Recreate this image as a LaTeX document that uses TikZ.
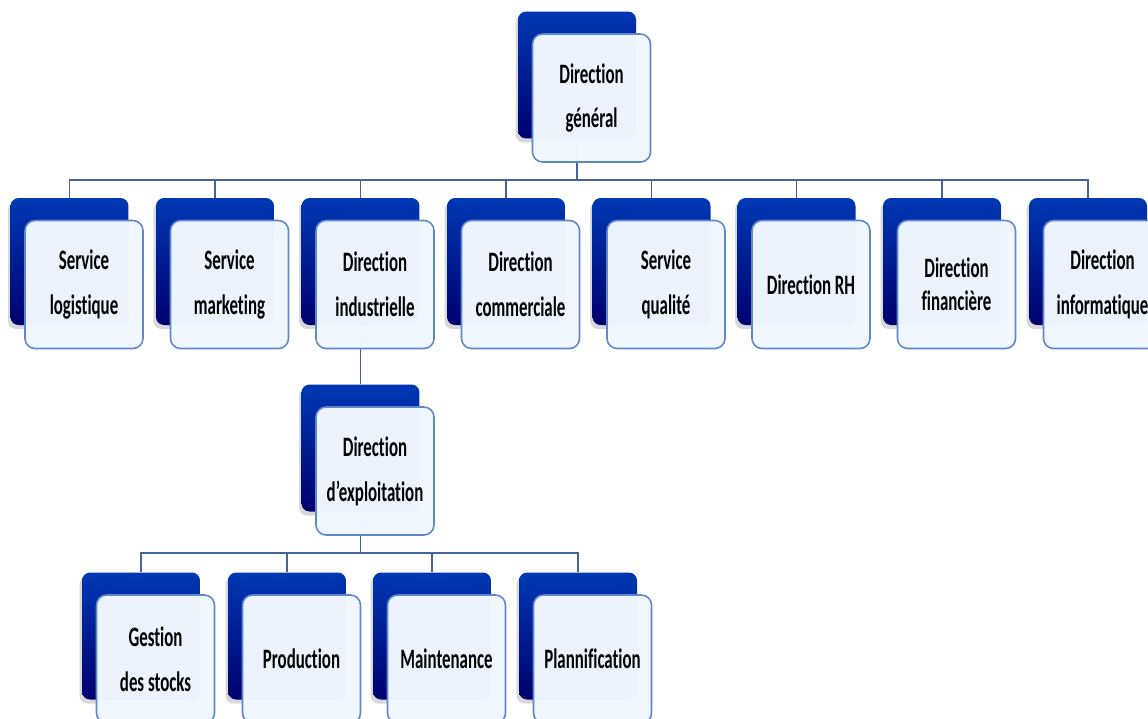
\documentclass[tikz,border=0pt]{standalone}
\usepackage{fontspec}
\setmainfont{Carlito}[FakeStretch=0.6, Ligatures=NoCommon]
\usetikzlibrary{positioning,shadows,backgrounds}
\definecolor{boxtop}{RGB}{0,56,180}
\definecolor{boxbot}{RGB}{0,0,110}
\definecolor{pane}{RGB}{240,247,255}
\definecolor{paneline}{RGB}{95,135,205}
\definecolor{linkcol}{RGB}{70,100,155}

\begin{document}
\begin{tikzpicture}[x=0.02cm,y=-0.02cm,
    back/.style={rounded corners=0.16cm, minimum width=2.36cm, minimum height=2.54cm, inner sep=0pt,
      top color=boxtop, bottom color=boxbot,
      drop shadow={shadow xshift=-0.05cm, shadow yshift=-0.08cm, opacity=0.3}},
    front/.style={draw=paneline, line width=0.9pt, fill=pane, fill opacity=0.985, text opacity=1,
      rounded corners=0.2cm, minimum width=2.36cm, minimum height=2.56cm, inner sep=0pt,
      align=center, font=\bfseries\fontsize{16}{25.5}\selectfont, shift={(14.5,23)}},
    link/.style={draw=linkcol, line width=0.8pt}]
        \clip (0,0) rectangle (1148,718);

        % Top
        \node[back] (dg-b) at (577,75) {};
        \node[front] (dg) at (dg-b) {Direction\\général};

        % Second level
        \foreach \n/\x/\t in {sl/69.5/Service\\logistique, sm/215/Service\\marketing,
            di/360.5/Direction\\industrielle, dc/506/Direction\\commerciale,
            sq/651.5/Service\\qualité, rh/796.5/Direction RH,
            df/942/Direction\\[-0.24cm]financière, dn/1088/Direction\\informatique} {
          \node[back] (\n-b) at (\x,261.5) {};
          \node[front] (\n) at (\n-b) {\t};
        }

        % Third level
        \node[back] (de-b) at (360.5,448) {};
        \node[front] (de) at (de-b) {Direction\\d’exploitation};

        % Fourth level
        \foreach \n/\x/\t in {gs/141/Gestion\\des stocks, pr/287/Production,
            mt/432/Maintenance, pl/578/Plannification} {
          \node[back] (\n-b) at (\x,636) {};
          \node[front] (\n) at (\n-b) {\t};
        }

        % Connectors
        \coordinate (bus-top) at (577,180);
        \coordinate (bus-low) at (360.5,553);
        \begin{scope}[on background layer]
          \fill[white] (0,0) rectangle (1148,718);
          \foreach \n in {sl,sm,di,dc,sq,rh,df,dn}
            \draw[link] (dg-b.south) |- (\n-b.north |- bus-top) -- (\n-b.north);
          \draw[link] (di-b.south) -- (de-b.north);
          \foreach \n in {gs,pr,mt,pl}
            \draw[link] (de-b.south) |- (\n-b.north |- bus-low) -- (\n-b.north);
        \end{scope}
    \end{tikzpicture}
\end{document}
